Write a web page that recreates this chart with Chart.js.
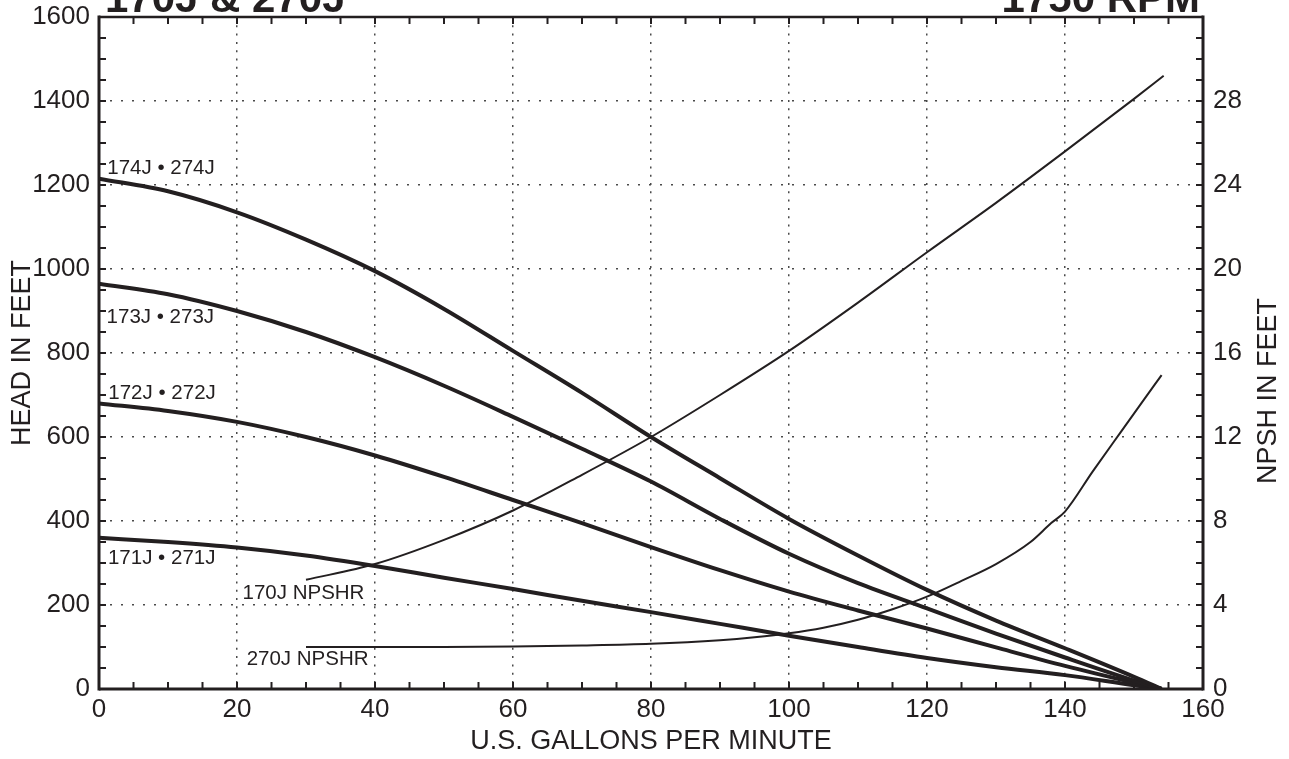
<!DOCTYPE html>
<html><head><meta charset="utf-8">
<script src="https://cdn.jsdelivr.net/npm/chart.js@4.4.1/dist/chart.umd.min.js"></script>
<style>html,body{margin:0;padding:0;background:#fff}canvas{display:block}</style>
</head><body>
<canvas id="c" width="1289" height="759"></canvas>
<script>
// ---- data ----
const gpm      = [0, 10, 20, 30, 40, 50, 60, 70, 80, 90, 100, 110, 120, 130, 140, 150, 154];
const head174  = [1215, 1185, 1135, 1070, 995, 905, 805, 705, 600, 502, 405, 318, 236, 163, 97, 29, 0];
const head173  = [965, 940, 900, 850, 790, 722, 648, 572, 494, 405, 322, 252, 192, 132, 75, 20, 0];
const head172  = [680, 662, 636, 600, 556, 505, 450, 395, 338, 283, 232, 187, 144, 99, 55, 15, 0];
const head171  = [360, 350, 337, 318, 293, 265, 238, 210, 183, 155, 127, 100, 74, 52, 33, 9, 0];

const npshGpm170 = [30, 40, 50, 60, 70, 80, 90, 100, 110, 120, 130, 140, 150, 154.3];
const npsh170    = [5.2, 5.95, 7.1, 8.5, 10.2, 12.0, 14.0, 16.1, 18.4, 20.8, 23.15, 25.6, 28.1, 29.2];
const npshGpm270 = [30, 40, 50, 60, 70, 80, 90, 95, 100, 105, 110, 115, 120, 125, 130, 135, 138, 140, 144, 148, 151, 154];
const npsh270    = [2.0, 2.0, 2.0, 2.02, 2.07, 2.15, 2.32, 2.46, 2.65, 2.92, 3.3, 3.8, 4.4, 5.15, 5.95, 7.0, 7.9, 8.45, 10.35, 12.2, 13.58, 14.95];

const xTickValues    = [0, 20, 40, 60, 80, 100, 120, 140, 160];
const headTickValues = [0, 200, 400, 600, 800, 1000, 1200, 1400, 1600];
const npshTickValues = [0, 4, 8, 12, 16, 20, 24, 28];

const curveLabels  = ['174J • 274J', '173J • 273J', '172J • 272J', '171J • 271J', '170J NPSHR', '270J NPSHR'];
const labelAtGpm   = [1.2, 1.1, 1.35, 1.3, 20.8, 21.4];
const labelAtHead  = [1240, 886, 703, 312, 227, 70];

const titleLeft  = '170J & 270J';
const titleRight = '1750 RPM';
const xTitle  = 'U.S. GALLONS PER MINUTE';
const yTitle  = 'HEAD IN FEET';
const y2Title = 'NPSH IN FEET';

// ---- styles ----
const INK = '#231f20';
const GRID = '#4a4a4a';
const F = '"Liberation Sans", Arial, Helvetica, sans-serif';

const pts = (xs, ys) => xs.map((v, i) => ({x: v, y: ys[i]}));

const headSet = (d) => ({data: pts(gpm, d), yAxisID: 'y', borderColor: INK, borderWidth: 4,
  pointRadius: 0, cubicInterpolationMode: 'monotone', fill: false});
const npshSet = (xs, d) => ({data: pts(xs, d), yAxisID: 'y2', borderColor: INK, borderWidth: 2,
  pointRadius: 0, cubicInterpolationMode: 'monotone', fill: false});

const noPad = s => { s.paddingTop = 0; s.paddingBottom = 0; s.paddingLeft = 0; s.paddingRight = 0; };

const deco = {
  id: 'deco',
  afterDraw(chart) {
    const {ctx, chartArea: a, scales: {x, y, y2}} = chart;
    const seg = (x1, y1, x2, y2_) => { ctx.beginPath(); ctx.moveTo(x1, y1); ctx.lineTo(x2, y2_); ctx.stroke(); };
    ctx.save();
    ctx.strokeStyle = INK; ctx.lineCap = 'butt';
    // inward minor/major tick marks
    ctx.lineWidth = 2;
    for (let v = x.min; v <= x.max; v += 5) {
      const px = x.getPixelForValue(v);
      seg(px, a.bottom, px, a.bottom - 7);
      seg(px, a.top, px, a.top + 7);
    }
    for (let v = y.min; v <= y.max; v += 50) {
      const py = y.getPixelForValue(v);
      seg(a.left, py, a.left + 7, py);
    }
    for (let v = y2.min; v <= y2.max; v += 1) {
      const py = y2.getPixelForValue(v);
      seg(a.right, py, a.right - 7, py);
    }
    // frame
    ctx.lineWidth = 3;
    seg(a.left, a.top - 1.5, a.left, a.bottom + 1.5);
    seg(a.right, a.top - 1.5, a.right, a.bottom + 1.5);
    seg(a.left, a.bottom, a.right, a.bottom);
    ctx.lineWidth = 2.5;
    seg(a.left, a.top, a.right, a.top);
    // header texts (cropped at top edge like the reference)
    ctx.fillStyle = INK;
    ctx.textBaseline = 'alphabetic';
    ctx.font = 'bold 42px ' + F;
    ctx.textAlign = 'left';
    ctx.fillText(titleLeft, a.left + 6, 12);
    ctx.textAlign = 'right';
    ctx.fillText(titleRight, a.right - 3, 12);
    // right axis title, reading bottom-to-top
    ctx.save();
    ctx.font = '27px ' + F;
    ctx.textAlign = 'center';
    ctx.textBaseline = 'middle';
    ctx.translate(a.right + 66, (a.top + a.bottom) / 2 + 38);
    ctx.rotate(-Math.PI / 2);
    ctx.fillText(y2Title, 0, 0);
    ctx.restore();
    // curve labels
    ctx.font = '20.5px ' + F;
    ctx.textAlign = 'left';
    ctx.textBaseline = 'middle';
    curveLabels.forEach((t, i) => {
      ctx.fillText(t, x.getPixelForValue(labelAtGpm[i]), y.getPixelForValue(labelAtHead[i]));
    });
    ctx.restore();
  }
};

const plain = v => String(v);

new Chart(document.getElementById('c'), {
  type: 'line',
  data: {
    datasets: [
      headSet(head174), headSet(head173), headSet(head172), headSet(head171),
      npshSet(npshGpm170, npsh170), npshSet(npshGpm270, npsh270)
    ]
  },
  options: {
    responsive: false, animation: false, events: [],
    layout: {padding: {top: 17, left: 0, right: 0, bottom: 0}},
    plugins: {legend: {display: false}, tooltip: {enabled: false}, title: {display: false}},
    scales: {
      x: {
        type: 'linear', position: 'bottom', min: 0, max: 160,
        afterBuildTicks: s => { s.ticks = xTickValues.map(v => ({value: v})); },
        ticks: {font: {family: F, size: 26}, color: INK, padding: 5, maxRotation: 0, autoSkip: false, callback: plain},
        grid: {color: GRID, lineWidth: 1.5, drawTicks: false},
        border: {display: false, dash: [2, 6.3]},
        title: {display: true, text: xTitle, color: INK, font: {family: F, size: 27}, padding: {top: 0, bottom: 1}},
        afterFit: s => { s.height = 70; noPad(s); }
      },
      y: {
        type: 'linear', position: 'left', min: 0, max: 1600,
        afterBuildTicks: s => { s.ticks = headTickValues.map(v => ({value: v})); },
        ticks: {font: {family: F, size: 26}, color: INK, padding: 9, autoSkip: false, callback: plain},
        grid: {color: GRID, lineWidth: 1.5, drawTicks: false},
        border: {display: false, dash: [2, 9]},
        title: {display: true, text: yTitle, color: INK, font: {family: F, size: 27}, padding: {top: 6, bottom: 0}},
        afterFit: s => { s.width = 99; noPad(s); }
      },
      y2: {
        type: 'linear', position: 'right', min: 0, max: 32,
        afterBuildTicks: s => { s.ticks = npshTickValues.map(v => ({value: v})); },
        ticks: {font: {family: F, size: 26}, color: INK, padding: 10, autoSkip: false, callback: plain},
        grid: {display: false, drawTicks: false},
        border: {display: false},
        title: {display: false},
        afterFit: s => { s.width = 86; noPad(s); }
      }
    }
  },
  plugins: [deco]
});
</script>
</body></html>
